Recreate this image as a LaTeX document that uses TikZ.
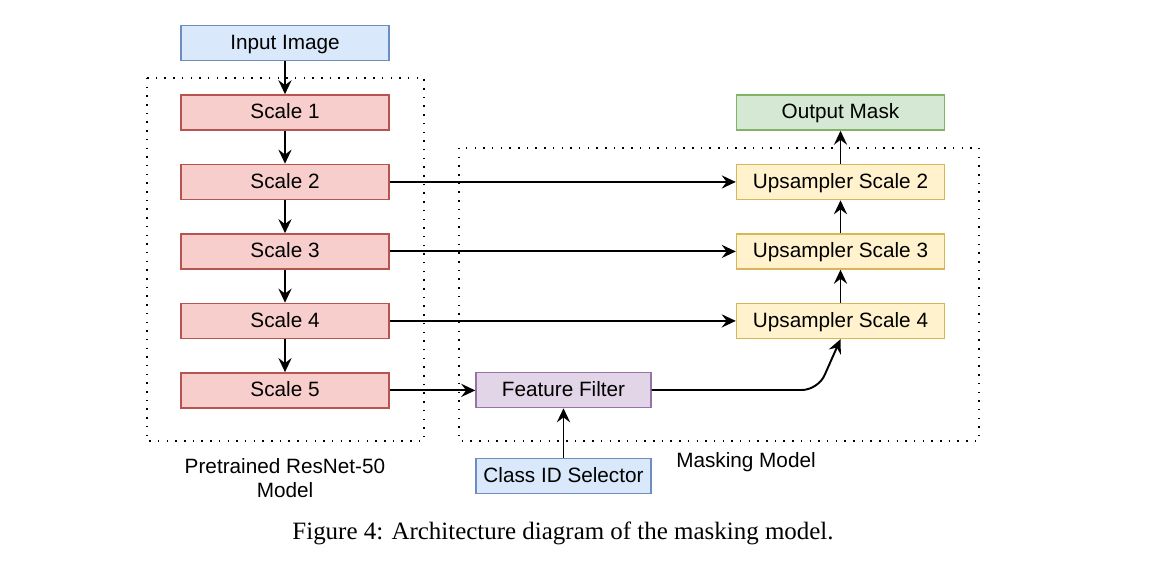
\documentclass[tikz,border=0pt]{standalone}
\usepackage{fontspec}
\setmainfont{Liberation Serif}
\setsansfont{Liberation Sans}
\usepackage{xcolor}
\usepackage{tikz}
\usetikzlibrary{shapes,arrows.meta,positioning,calc}
\definecolor{blueFill}{HTML}{DAE8FC}
\definecolor{blueLine}{HTML}{6C8EBF}
\definecolor{redFill}{HTML}{F8CECC}
\definecolor{redLine}{HTML}{B85450}
\definecolor{yellowFill}{HTML}{FFF2CC}
\definecolor{yellowLine}{HTML}{D6B656}
\definecolor{greenFill}{HTML}{D5E8D4}
\definecolor{greenLine}{HTML}{82B366}
\definecolor{purpleFill}{HTML}{E1D5E7}
\definecolor{purpleLine}{HTML}{9673A6}

\begin{document}
\begin{tikzpicture}[
    x=0.02cm, y=-0.02cm,
    node distance=0.66cm,
    box/.style={rectangle, line width=0.85pt, minimum width=4.16cm, minimum height=0.7cm, inner sep=0pt, text height=0.8em, text depth=0.08em, font=\sffamily\fontsize{11.8}{14}\selectfont},
    inputbox/.style={box, draw=blueLine, fill=blueFill},
    scalebox/.style={box, draw=redLine, fill=redFill},
    upbox/.style={box, draw=yellowLine, fill=yellowFill},
    outbox/.style={box, draw=greenLine, fill=greenFill},
    filterbox/.style={box, draw=purpleLine, fill=purpleFill, minimum width=3.5cm},
    selectbox/.style={box, draw=blueLine, fill=blueFill, minimum width=3.5cm},
    groupbox/.style={line width=0.85pt, dash pattern=on 0.85pt off 4.1pt},
    grouplabel/.style={align=center, font=\sffamily\fontsize{11.8}{13.6}\selectfont},
    arrow/.style={line width=1.1pt, -{Stealth[length=8pt,width=7.5pt,inset=2.8pt]}}
]
    \useasboundingbox (0,0) rectangle (1166,574);

    \draw[groupbox] (147,78) rectangle (424,441);
    \draw[groupbox] (459,148) rectangle (979,441);

    \node[inputbox] (img) at (285,43) {Input Image};
    \node[scalebox, below=of img] (s1) {Scale 1};
    \node[scalebox, below=of s1] (s2) {Scale 2};
    \node[scalebox, below=of s2] (s3) {Scale 3};
    \node[scalebox, below=of s3] (s4) {Scale 4};
    \node[scalebox, below=of s4] (s5) {Scale 5};

    \node[upbox] (up2) at (840.5,182) {Upsampler Scale 2};
    \node[upbox, below=of up2] (up3) {Upsampler Scale 3};
    \node[upbox, below=of up3] (up4) {Upsampler Scale 4};
    \node[outbox, above=of up2] (mask) {Output Mask};

    \node[filterbox] (ff) at (563.5,390) {Feature Filter};
    \node[selectbox] (cls) at (563.5,476) {Class ID Selector};

    \node[grouplabel] (resnet) at (285,478) {Pretrained ResNet-50\\Model};
    \node[grouplabel] (masking) at (746,462) {Masking Model};
    \node[font=\rmfamily\fontsize{14.2}{17}\selectfont] (caption) at (563,533) {Figure 4: Architecture diagram of the masking model.};

    \draw[arrow] (img) -- (s1);
    \draw[arrow] (s1) -- (s2);
    \draw[arrow] (s2) -- (s3);
    \draw[arrow] (s3) -- (s4);
    \draw[arrow] (s4) -- (s5);
    \draw[arrow] (s2.east) -- (s2.east -| up2.west);
    \draw[arrow] (s3.east) -- (s3.east -| up3.west);
    \draw[arrow] (s4.east) -- (s4.east -| up4.west);
    \draw[arrow] (s5.east) -- (s5.east -| ff.west);
    \draw[arrow] (cls) -- (ff);
    \draw[arrow, rounded corners=0.32cm] (ff.east) -- (818,390) -- (up4.south);
    \draw[arrow] (up4) -- (up3);
    \draw[arrow] (up3) -- (up2);
    \draw[arrow] (up2) -- (mask);
\end{tikzpicture}
\end{document}
